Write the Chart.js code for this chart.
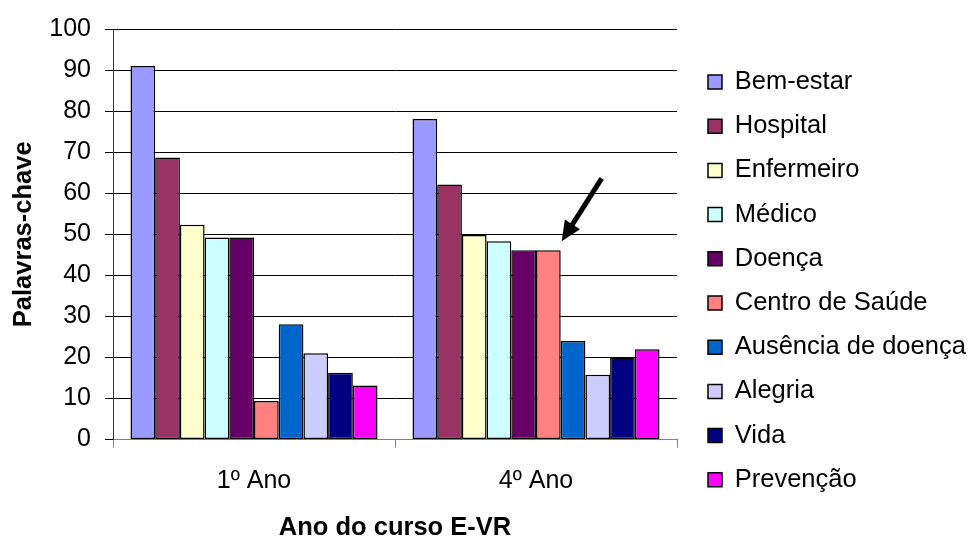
<!DOCTYPE html>
<html>
<head>
<meta charset="utf-8">
<script src="https://cdn.jsdelivr.net/npm/chart.js@4.4.1/dist/chart.umd.min.js"></script>
<style>
  html, body { margin: 0; padding: 0; background: #fff; }
  #wrap { width: 971px; height: 538px; }
</style>
</head>
<body>
<div id="wrap"><canvas id="chart" width="971" height="538"></canvas></div>
<script>
const categories = ['1º Ano', '4º Ano'];

const bemEstar    = [91.0, 78.1];
const hospital    = [68.7, 62.1];
const enfermeiro  = [52.3, 49.8];
const medico      = [49.2, 48.3];
const doenca      = [49.2, 46.1];
const centroSaude = [9.4, 46.1];
const ausencia    = [28.1, 24.0];
const alegria     = [21.0, 15.8];
const vida        = [16.3, 20.0];
const prevencao   = [13.2, 22.0];

const yTicks = [0, 10, 20, 30, 40, 50, 60, 70, 80, 90, 100];

const FONT = "'Liberation Sans', Arial, sans-serif";

const series = [
    { label: 'Bem-estar',          data: bemEstar,    color: '#9999FF' },
    { label: 'Hospital',           data: hospital,    color: '#993366' },
    { label: 'Enfermeiro',         data: enfermeiro,  color: '#FFFFCC' },
    { label: 'Médico',             data: medico,      color: '#CCFFFF' },
    { label: 'Doença',             data: doenca,      color: '#660066' },
    { label: 'Centro de Saúde',    data: centroSaude, color: '#FF8080' },
    { label: 'Ausência de doença', data: ausencia,    color: '#0066CC' },
    { label: 'Alegria',            data: alegria,     color: '#CCCCFF' },
    { label: 'Vida',               data: vida,        color: '#000080' },
    { label: 'Prevenção',          data: prevencao,   color: '#FF00FF' }
];

// arrow pointing at the "Centro de Saúde" bar of 4º Ano
const arrowPlugin = {
    id: 'arrow',
    afterDatasetsDraw(chart) {
        const bar = chart.getDatasetMeta(5).data[1];
        if (!bar) return;
        const ctx = chart.ctx;
        const tipX = bar.x + bar.width / 2 + 1;
        const tipY = bar.y - 9;
        const tailX = tipX + 40;
        const tailY = tipY - 63;
        const dx = tipX - tailX, dy = tipY - tailY;
        const len = Math.sqrt(dx * dx + dy * dy);
        const ux = dx / len, uy = dy / len;
        const headLen = 20, headW = 9;
        const baseX = tipX - ux * headLen, baseY = tipY - uy * headLen;
        ctx.save();
        ctx.strokeStyle = '#000';
        ctx.fillStyle = '#000';
        ctx.lineWidth = 5;
        ctx.beginPath();
        ctx.moveTo(tailX, tailY);
        ctx.lineTo(baseX + ux * 2, baseY + uy * 2);
        ctx.stroke();
        ctx.beginPath();
        ctx.moveTo(tipX, tipY);
        ctx.lineTo(baseX - uy * headW, baseY + ux * headW);
        ctx.lineTo(baseX + uy * headW, baseY - ux * headW);
        ctx.closePath();
        ctx.fill();
        ctx.restore();
    }
};

const ctx = document.getElementById('chart').getContext('2d');

const chart = new Chart(ctx, {
    type: 'bar',
    data: {
        labels: categories,
        datasets: series.map(s => ({
            label: s.label,
            data: s.data,
            backgroundColor: s.color,
            borderColor: '#000',
            borderWidth: 1.5,
            borderSkipped: false,
            categoryPercentage: 0.876,
            barPercentage: 1.0
        }))
    },
    options: {
        responsive: false,
        animation: false,
        layout: {
            padding: { left: 0, top: 29, right: 0, bottom: 5.2 }
        },
        plugins: {
            tooltip: { enabled: false },
            legend: {
                position: 'right',
                align: 'center',
                maxWidth: 281.7,
                labels: {
                    color: '#000',
                    font: { family: FONT, size: 25.5 },
                    boxWidth: 14,
                    boxHeight: 14,
                    padding: 18.7
                }
            }
        },
        scales: {
            x: {
                offset: true,
                grid: {
                    display: true,
                    offset: true,
                    drawOnChartArea: false,
                    drawTicks: true,
                    tickLength: 8,
                    color: '#808080',
                    lineWidth: 1
                },
                border: { display: true, color: '#808080', width: 1 },
                ticks: {
                    color: '#000',
                    padding: 18.7,
                    font: { family: FONT, size: 25 }
                },
                title: {
                    display: true,
                    text: 'Ano do curso E-VR',
                    color: '#000',
                    font: { family: FONT, size: 25.5, weight: 'bold', lineHeight: 0.8 },
                    padding: { top: 2.3, bottom: -4.9 }
                }
            },
            y: {
                min: 0,
                max: 100,
                afterBuildTicks(scale) {
                    scale.ticks = yTicks.map(v => ({ value: v }));
                },
                afterFit(scale) {
                    // plot edges come from the layout padding, not from label overhang
                    scale.paddingTop = 0;
                    scale.paddingBottom = 0;
                },
                grid: {
                    color: ctx => ctx.tick && ctx.tick.value === 0 ? '#808080' : '#000',
                    tickColor: '#000',
                    lineWidth: 1,
                    drawTicks: true,
                    tickLength: 8
                },
                border: { display: true, color: '#333', width: 1 },
                ticks: {
                    color: '#000',
                    padding: 14,
                    autoSkip: false,
                    font: { family: FONT, size: 25 }
                },
                title: {
                    display: true,
                    text: 'Palavras-chave',
                    color: '#000',
                    font: { family: FONT, size: 25.5, weight: 'bold', lineHeight: 0.8 },
                    padding: { top: 13.5, bottom: 1.4 }
                }
            },
            gap: {
                // empty spacer between the plot and the legend
                position: 'right',
                display: true,
                grid: { display: false, drawTicks: false },
                border: { display: false },
                ticks: { display: false },
                afterFit(scale) { scale.width = 12.3; }
            }
        }
    },
    plugins: [arrowPlugin]
});
</script>
</body>
</html>
